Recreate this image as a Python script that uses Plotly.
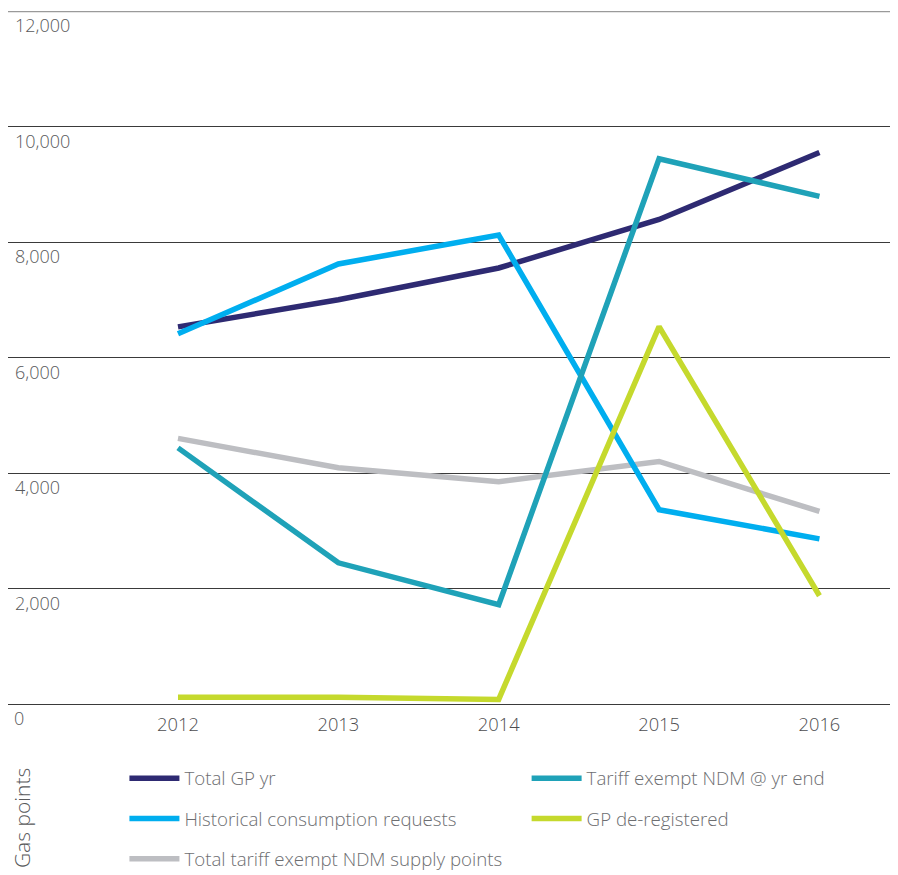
import plotly.graph_objects as go

years = [2012, 2013, 2014, 2015, 2016]

total_gp_yr = [6530, 7000, 7550, 8390, 9550]
historical_requests = [6410, 7620, 8120, 3365, 2860]
tariff_exempt_yr_end = [4435, 2445, 1720, 9440, 8790]
gp_deregistered = [115, 115, 80, 6535, 1875]
total_tariff_exempt_points = [4600, 4090, 3850, 4200, 3335]

y_ticks = [2000, 4000, 6000, 8000, 10000, 12000]
y_tick_text = ["2,000", "4,000", "6,000", "8,000", "10,000", "12,000"]
y_zero_label = "0"

FONT = "Open Sans"
TEXT_GREY = "#6d6e71"
TICK_FONT = dict(family=FONT, size=18, color="#58595b", weight=300)

# (name, values, colour, legend id, legend rank) in drawing order, bottom first
series = [
    ("Total GP yr", total_gp_yr, "#2e2a72", "legend", 1),
    ("Total tariff exempt NDM supply points", total_tariff_exempt_points, "#bdbec2", "legend", 3),
    ("Historical consumption requests", historical_requests, "#00aeef", "legend", 2),
    ("Tariff exempt NDM @ yr end", tariff_exempt_yr_end, "#1fa2b8", "legend2", 1),
    ("GP de-registered", gp_deregistered, "#c5d92d", "legend2", 2),
]

fig = go.Figure()
for name, vals, color, leg, rank in series:
    fig.add_trace(go.Scatter(
        x=years, y=vals, name=name, mode="lines",
        line=dict(color=color, width=5.5),
        legend=leg, legendrank=rank, legendgroup=name,
    ))

legend_common = dict(
    orientation="v",
    font=dict(family=FONT, size=18.7, color=TEXT_GREY, weight=300),
    bgcolor="rgba(0,0,0,0)",
    xref="paper", yref="container",
    xanchor="left", yanchor="top",
    tracegroupgap=13,
    traceorder="grouped",
    itemwidth=50,
)

fig.update_layout(
    width=898, height=875,
    margin=dict(l=8, r=8, t=11, b=171),
    plot_bgcolor="white", paper_bgcolor="white",
    showlegend=True,
    legend=dict(x=0.132, y=0.132, **legend_common),
    legend2=dict(x=0.588, y=0.132, **legend_common),
    xaxis=dict(
        range=[2010.94, 2016.44],
        tickvals=years, ticktext=[str(y) for y in years],
        showgrid=False, zeroline=False, showline=False,
        ticks="", ticklabelstandoff=8,
        tickfont=dict(family=FONT, size=18.3, color="#4d4d4f", weight=300),
        fixedrange=True,
    ),
    yaxis=dict(
        range=[0, 12000],
        tickvals=y_ticks, ticktext=y_tick_text,
        showgrid=True, gridcolor="#3a3a3a", gridwidth=1,
        zeroline=True, zerolinecolor="#3a3a3a", zerolinewidth=1,
        showline=False, ticks="",
        ticklabelposition="inside", ticklabelshift=15, ticklabelstandoff=4,
        tickfont=TICK_FONT,
        layer="above traces",
        fixedrange=True,
    ),
    shapes=[dict(
        type="line", xref="paper", yref="y",
        x0=0, x1=1, y0=12000, y1=12000,
        line=dict(color="#9a9a9a", width=2.5), layer="above",
    )],
    annotations=[
        # zero label sits below the baseline, outside the plot area
        dict(
            text=y_zero_label, xref="paper", yref="y",
            x=0, y=0, xanchor="left", yanchor="middle",
            xshift=4, yshift=-14, showarrow=False, font=TICK_FONT,
        ),
        dict(
            text="Gas points", textangle=-90,
            xref="paper", yref="paper",
            x=0.016, y=-0.2395, xanchor="center", yanchor="bottom",
            showarrow=False,
            font=dict(family=FONT, size=21, color="#58595b", weight=300),
        ),
    ],
)

fig.write_html("out.html")
